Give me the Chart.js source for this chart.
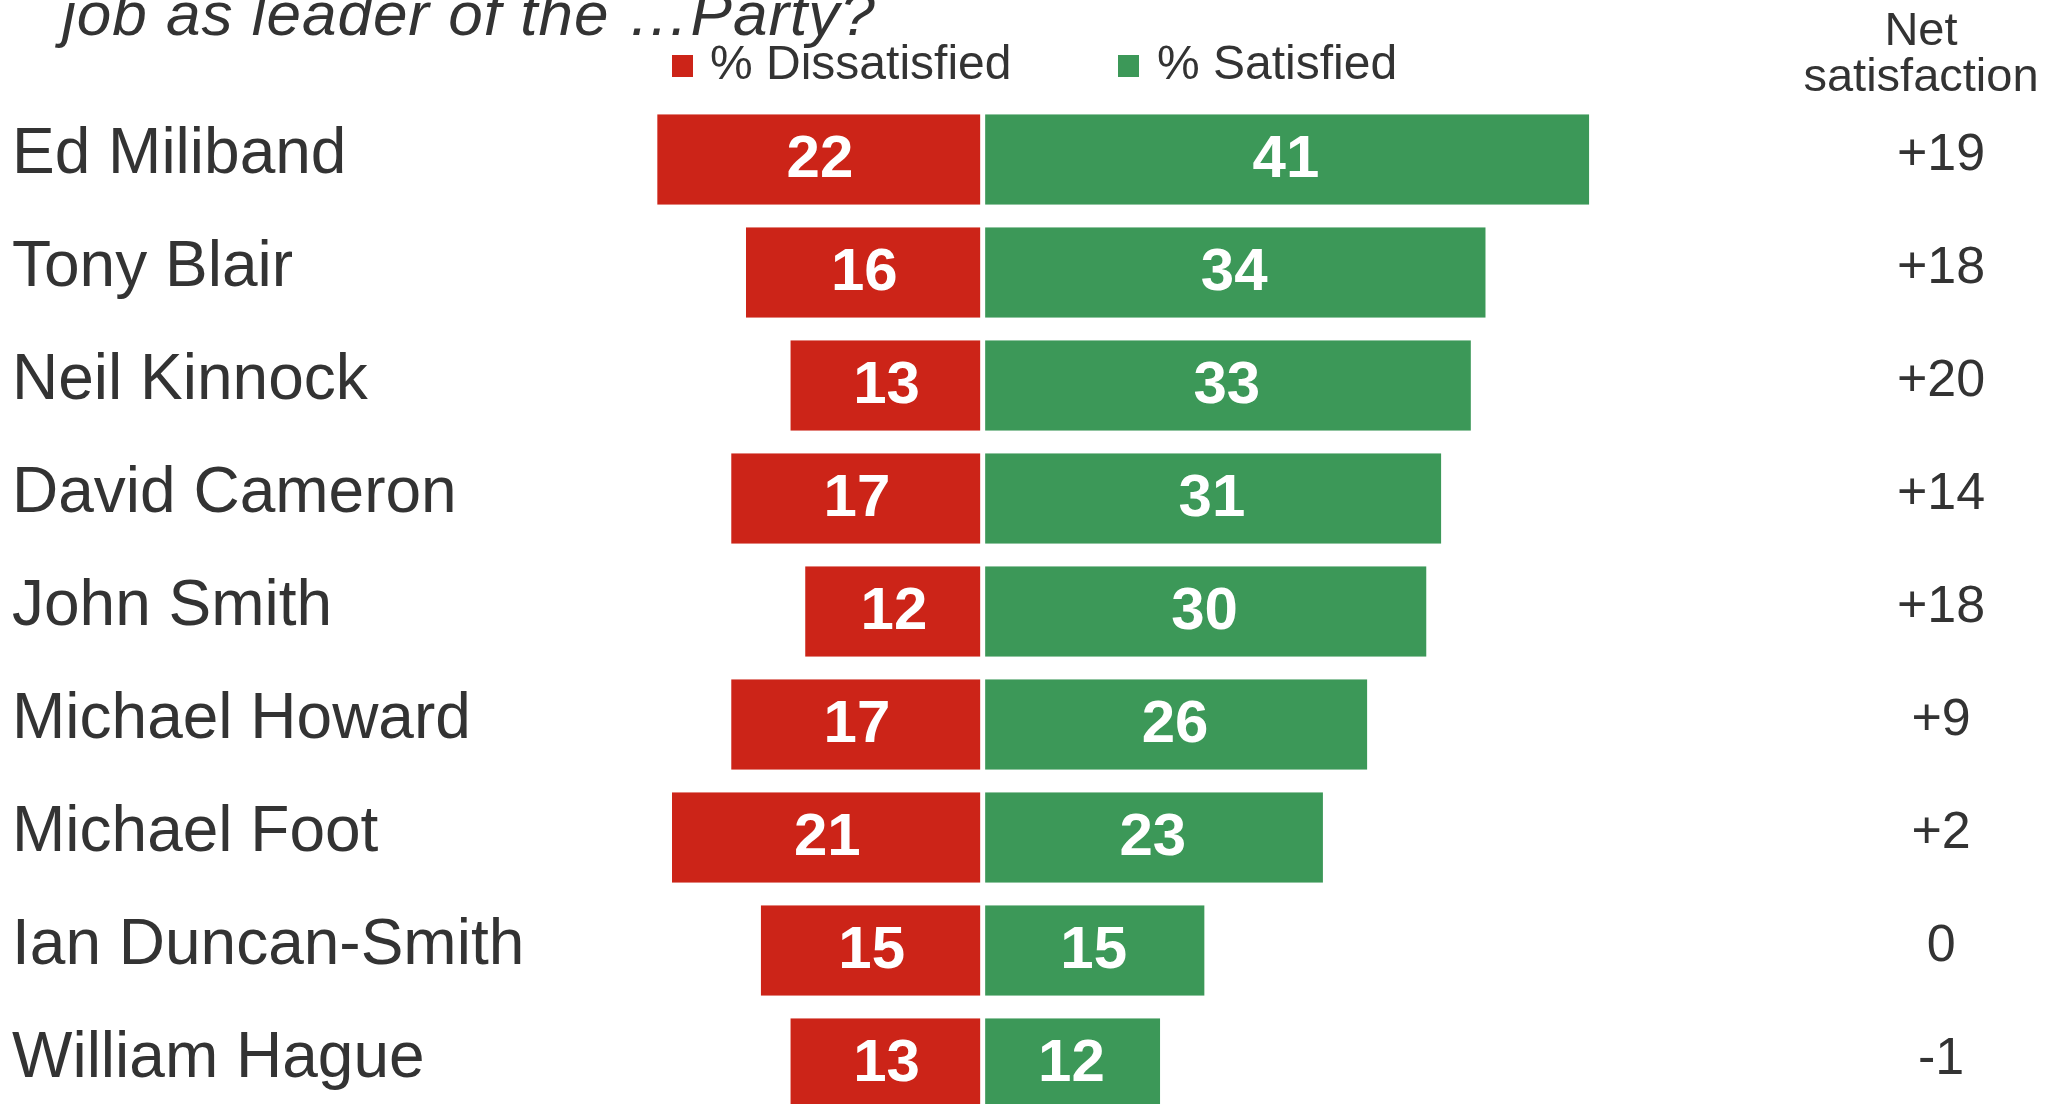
<!DOCTYPE html>
<html>
<head>
<meta charset="utf-8">
<script src="https://cdn.jsdelivr.net/npm/chart.js@4.4.0/dist/chart.umd.min.js"></script>
<style>
  html, body { margin: 0; padding: 0; background: #fff; overflow: hidden; }
</style>
</head>
<body>
<canvas id="myChart" width="2062" height="1120"></canvas>
<script>
var leaders = ['Ed Miliband', 'Tony Blair', 'Neil Kinnock', 'David Cameron', 'John Smith',
               'Michael Howard', 'Michael Foot', 'Ian Duncan-Smith', 'William Hague'];
var dissatisfied = [22, 16, 13, 17, 12, 17, 21, 15, 13];
var satisfied = [41, 34, 33, 31, 30, 26, 23, 15, 12];
var netLabels = ['+19', '+18', '+20', '+14', '+18', '+9', '+2', '0', '-1'];
var seriesNames = ['% Dissatisfied', '% Satisfied'];
var titleText = 'job as leader of the \u2026Party?';
var netTitle = ['Net', 'satisfaction'];

var red = '#cc2418';
var green = '#3c9858';
var textColor = '#333333';
var fontName = '"Liberation Sans", Arial, sans-serif';

Chart.defaults.font.family = fontName;

// values in the bars, legend, and the texts above the chart
var extras = {
  id: 'extras',
  afterDatasetsDraw: function (chart) {
    var c = chart.ctx;
    c.save();
    c.font = 'bold 60px ' + fontName;
    c.fillStyle = '#fff';
    c.textAlign = 'center';
    c.textBaseline = 'middle';
    chart.data.datasets.forEach(function (ds, i) {
      chart.getDatasetMeta(i).data.forEach(function (bar, j) {
        c.fillText(String(Math.abs(ds.data[j])), (bar.x + bar.base) / 2, bar.y + 1);
      });
    });

    // legend
    var legendPos = [[672, 710], [1118, 1157]];
    c.font = '48px ' + fontName;
    c.textAlign = 'left';
    chart.data.datasets.forEach(function (ds, i) {
      c.fillStyle = ds.backgroundColor;
      c.fillRect(legendPos[i][0], 55, 21, 22);
      c.fillStyle = textColor;
      c.fillText(ds.label, legendPos[i][1], 66);
    });

    // net satisfaction header
    c.textAlign = 'center';
    c.textBaseline = 'alphabetic';
    c.font = '47px ' + fontName;
    c.fillText(netTitle[0], 1921, 45);
    c.fillText(netTitle[1], 1921, 91);

    // cut-off question on top
    c.textAlign = 'left';
    c.font = 'italic 62px ' + fontName;
    c.letterSpacing = '1px';
    c.fillText(titleText, 62, 35);
    c.restore();
  }
};

function fixedAxis(w) {
  return function (s) {
    s.width = w;
    s.paddingTop = 0;
    s.paddingBottom = 0;
  };
}

var ctx = document.getElementById('myChart').getContext('2d');
new Chart(ctx, {
  type: 'bar',
  data: {
    labels: leaders,
    datasets: [
      {
        label: seriesNames[0],
        data: dissatisfied.map(function (v) { return -v; }),
        backgroundColor: red,
        borderColor: '#ffffff',
        borderWidth: { top: 0, right: 2.5, bottom: 0, left: 0 },
        borderSkipped: false
      },
      {
        label: seriesNames[1],
        data: satisfied,
        backgroundColor: green,
        borderColor: '#ffffff',
        borderWidth: { top: 0, right: 0, bottom: 0, left: 2.5 },
        borderSkipped: false
      }
    ]
  },
  options: {
    indexAxis: 'y',
    responsive: false,
    animation: false,
    categoryPercentage: 1,
    barPercentage: 0.8,
    layout: { padding: { left: 12, right: 0, top: 103, bottom: 0 } },
    plugins: {
      legend: { display: false },
      tooltip: { enabled: false }
    },
    scales: {
      x: { stacked: true, min: -26, max: 61.8, display: false },
      y: {
        stacked: true,
        grid: { display: false, drawTicks: false },
        border: { display: false },
        ticks: { crossAlign: 'far', color: textColor, font: { size: 64 }, labelOffset: -4, padding: 0 },
        afterFit: fixedAxis(586)
      },
      y2: {
        type: 'category',
        labels: netLabels,
        position: 'right',
        offset: true,
        grid: { display: false, drawTicks: false },
        border: { display: false },
        ticks: { crossAlign: 'center', color: textColor, font: { size: 52 }, labelOffset: -4, padding: 0 },
        afterFit: fixedAxis(165)
      }
    }
  },
  plugins: [extras]
});
</script>
</body>
</html>
